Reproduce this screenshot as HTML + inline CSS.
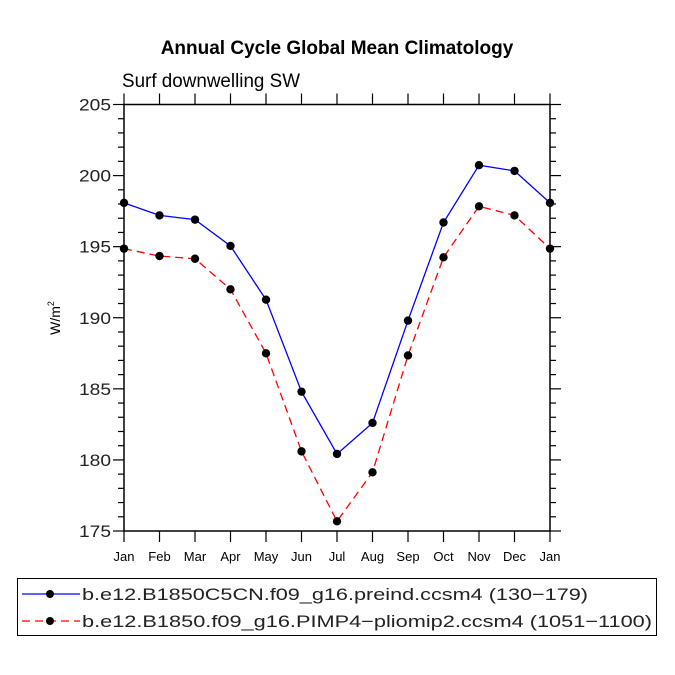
<!DOCTYPE html>
<html><head><meta charset="utf-8"><style>
body{margin:0;background:#fff;}
svg{display:block;font-family:"Liberation Sans",sans-serif;}
</style></head><body>
<svg id="chart" width="675" height="675" viewBox="0 0 675 675">
<text x="337" y="54" text-anchor="middle" font-size="19" font-weight="bold">Annual Cycle Global Mean Climatology</text>
<text x="122" y="87" font-size="19" textLength="178" lengthAdjust="spacingAndGlyphs">Surf downwelling SW</text>
<text transform="translate(60,318) rotate(-90)" text-anchor="middle" font-size="14">W/m<tspan dy="-6" font-size="9">2</tspan></text>
<g id="axes"></g>
<g id="series"></g>
<g>
<rect x="17.5" y="578.5" width="639" height="57" fill="none" stroke="#000" stroke-width="1"/>
<g>
<line x1="22" y1="594" x2="80" y2="594" stroke="#00f" stroke-width="1.3"/>
<circle cx="50" cy="594" r="4" fill="#000"/>
<text x="82" y="600" font-size="17" textLength="506" lengthAdjust="spacingAndGlyphs" fill="#222">b.e12.B1850C5CN.f09_g16.preind.ccsm4 (130−179)</text>
</g>
<g>
<line x1="22" y1="621" x2="80" y2="621" stroke="#f00" stroke-width="1.3" stroke-dasharray="8,5"/>
<circle cx="50" cy="621" r="4" fill="#000"/>
<text x="82" y="627" font-size="17" textLength="570" lengthAdjust="spacingAndGlyphs" fill="#222">b.e12.B1850.f09_g16.PIMP4−pliomip2.ccsm4 (1051−1100)</text>
</g>
</g>
</svg>
<script>
const months=["Jan","Feb","Mar","Apr","May","Jun","Jul","Aug","Sep","Oct","Nov","Dec","Jan"];
const preindValues=[198.08,197.2,196.9,195.05,191.27,184.8,180.42,182.6,189.8,196.7,200.73,200.33,198.08];
const pliomipValues=[194.86,194.34,194.15,192.0,187.5,180.6,175.68,179.13,187.35,194.25,197.84,197.2,194.86];
const yTicks=[175,180,185,190,195,200,205];
const yMin=175,yMax=205;
const X0=124,X1=550,Y0=531,Y1=104.5;
function xs(i){return X0+(X1-X0)*i/(months.length-1);}
function ys(v){return Y0-(v-yMin)/(yMax-yMin)*(Y0-Y1);}
const NS="http://www.w3.org/2000/svg";
const axes=document.getElementById('axes');
function mk(tag,attrs,parent){const e=document.createElementNS(NS,tag);for(const k in attrs)e.setAttribute(k,attrs[k]);parent.appendChild(e);return e;}
const frame=mk('rect',{x:X0,y:Y1,width:X1-X0,height:Y0-Y1,fill:'none',stroke:'#000','stroke-width':1.5},axes);


for(let v=yMin;v<=yMax;v++){
  const major=(v%5===0);const L=major?11:6;const y=ys(v);
  mk('line',{x1:X0-L,y1:y,x2:X0,y2:y,stroke:'#000','stroke-width':1.2},axes);
  mk('line',{x1:X1,y1:y,x2:X1+L,y2:y,stroke:'#000','stroke-width':1.2},axes);
}
yTicks.forEach(v=>{
  const t=mk('text',{x:X0-13,y:ys(v)+6,'text-anchor':'end','font-size':17,fill:'#222',textLength:32,lengthAdjust:'spacingAndGlyphs'},axes);
  t.textContent=v;
  
  
});
months.forEach((m,i)=>{
  const x=xs(i);
  mk('line',{x1:x,y1:Y1-11,x2:x,y2:Y1,stroke:'#000','stroke-width':1.2},axes);
  mk('line',{x1:x,y1:Y0,x2:x,y2:Y0+11,stroke:'#000','stroke-width':1.2},axes);
  const t=mk('text',{x:x,y:Y0+30,'text-anchor':'middle','font-size':13},axes);
  t.textContent=m;
  
  
});
const series=document.getElementById('series');
function draw(vals,color,dash,name){
  const g=mk('g',{},series);
  
  
  const pts=vals.map((v,i)=>xs(i)+','+ys(v)).join(' ');
  const attrs={points:pts,fill:'none',stroke:color,'stroke-width':1.3};
  if(dash)attrs['stroke-dasharray']=dash;
  mk('polyline',attrs,g);
  vals.forEach((v,i)=>{
    const c=mk('circle',{cx:xs(i),cy:ys(v),r:4.2,fill:'#000'},g);
    
    
  });
}
draw(preindValues,'#00f',null,'series-preind');
draw(pliomipValues,'#f00','8,5','series-pliomip');
</script>
</body></html>
